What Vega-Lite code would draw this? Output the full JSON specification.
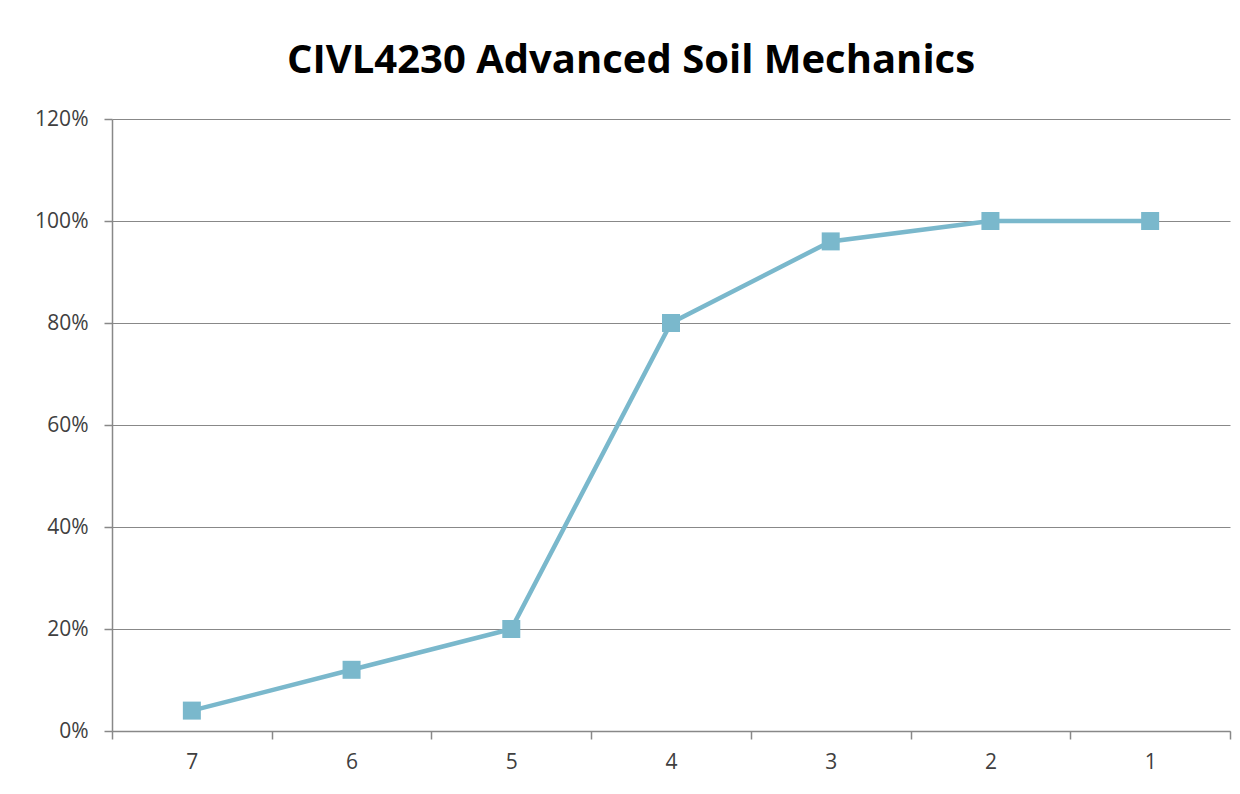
{
  "$schema": "https://vega.github.io/schema/vega-lite/v6.json",
  "autosize": "none",
  "width": 1118,
  "height": 612,
  "padding": {"left": 112, "top": 119, "right": 10, "bottom": 63},
  "background": "white",
  "title": {
    "text": "CIVL4230 Advanced Soil Mechanics",
    "font": "Open Sans",
    "fontSize": 40,
    "fontWeight": "bold",
    "color": "#000000",
    "anchor": "middle",
    "baseline": "alphabetic",
    "dx": -40,
    "offset": -5
  },
  "config": {
    "view": {"stroke": null},
    "axis": {
      "labelFont": "Open Sans",
      "labelFontSize": 21,
      "labelColor": "#404040",
      "domainColor": "#888888",
      "tickColor": "#888888",
      "gridColor": "#888888",
      "domainWidth": 1.5,
      "tickWidth": 1.5,
      "gridWidth": 1,
      "gridOpacity": 1,
      "tickSize": 8,
      "title": null
    }
  },
  "data": {
    "values": [
      {"x": "7", "y": 0.04},
      {"x": "6", "y": 0.12},
      {"x": "5", "y": 0.20},
      {"x": "4", "y": 0.80},
      {"x": "3", "y": 0.96},
      {"x": "2", "y": 1.00},
      {"x": "1", "y": 1.00}
    ]
  },
  "encoding": {
    "x": {
      "field": "x",
      "type": "ordinal",
      "sort": null,
      "scale": {"type": "band", "paddingInner": 0, "paddingOuter": 0},
      "axis": {"labelAngle": 0, "tickBand": "extent", "grid": false, "labelPadding": 12}
    },
    "y": {
      "field": "y",
      "type": "quantitative",
      "scale": {"domain": [0, 1.2], "nice": false},
      "axis": {"values": [0, 0.2, 0.4, 0.6, 0.8, 1.0, 1.2], "format": ".0%", "grid": true, "labelPadding": 16}
    }
  },
  "layer": [
    {"mark": {"type": "line", "color": "#7AB8CC", "strokeWidth": 4.5}},
    {"mark": {"type": "point", "shape": "square", "filled": true, "color": "#7AB8CC", "size": 324, "opacity": 1}}
  ]
}
